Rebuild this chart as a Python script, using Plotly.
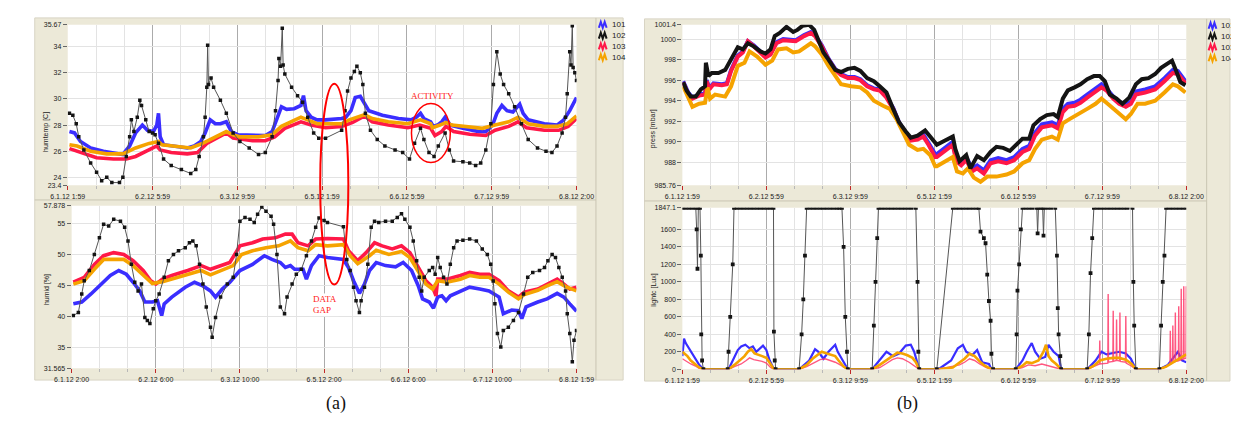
import plotly.graph_objects as go

W, H = 1239, 441

# ---------------- data (time in days-index units; tick k = k-th label) ----------------
X_TICK_POS = [0, 1, 2, 3, 4, 5, 6]
X_LABELS_MAIN = ["6.1.12 1:59", "6.2.12 5:59", "6.3.12 9:59", "6.5.12 1:59",
                 "6.6.12 5:59", "6.7.12 9:59", "6.8.12 2:00"]
X_LABELS_HUMID = ["6.1.12 2:00", "6.2.12 6:00", "6.3.12 10:00", "6.5.12 2:00",
                  "6.6.12 6:00", "6.7.12 10:00", "6.8.12 1:59"]

TEMP_TICKS = [23.4, 24, 26, 28, 30, 32, 34, 35.67]
TEMP_TICK_TEXT = ["23.4", "24", "26", "28", "30", "32", "34", "35.67"]
HUMID_TICKS = [31.565, 35, 40, 45, 50, 55, 57.878]
HUMID_TICK_TEXT = ["31.565", "35", "40", "45", "50", "55", "57.878"]
PRESS_TICKS = [985.76, 988, 990, 992, 994, 996, 998, 1000, 1001.4]
PRESS_TICK_TEXT = ["985.76", "988", "990", "992", "994", "996", "998", "1000", "1001.4"]
LIGHT_TICKS = [0, 200, 400, 600, 800, 1000, 1200, 1400, 1600, 1847.1]
LIGHT_TICK_TEXT = ["0", "200", "400", "600", "800", "1000", "1200", "1400", "1600", "1847.1"]

SERIES_NAMES = ["101", "102", "103", "104"]

TEMP_101 = [(0.02,27.5),(0.08,27.4),(0.15,26.75),(0.27,26.25),(0.42,26.0),(0.57,25.8),(0.65,25.75),(0.73,26.4),(0.80,27.4),(0.88,28.0),(0.94,27.6),(1.01,27.5),(1.05,28.0),(1.07,28.9),(1.09,27.1),(1.13,26.5),(1.22,26.4),(1.41,26.25),(1.49,26.4),(1.57,26.75),(1.62,27.4),(1.68,28.4),(1.74,28.1),(1.80,28.1),(1.87,28.25),(1.93,27.5),(2.01,27.25),(2.18,27.2),(2.33,27.2),(2.41,27.5),(2.46,28.4),(2.52,29.4),(2.58,29.2),(2.67,29.25),(2.75,29.5),(2.78,30.25),(2.81,29.1),(2.87,28.6),(2.94,28.4),(3.04,28.4),(3.23,28.5),(3.28,28.6),(3.34,29.1),(3.39,30.1),(3.45,30.2),(3.50,29.6),(3.55,29.1),(3.71,28.75),(3.90,28.5),(4.05,28.4),(4.11,28.6),(4.16,28.9),(4.20,28.5),(4.28,28.25),(4.31,27.9),(4.36,28.0),(4.41,28.25),(4.45,28.6),(4.51,28.0),(4.66,27.75),(4.85,27.5),(4.93,27.5),(5.01,28.0),(5.06,28.9),(5.12,29.5),(5.18,29.1),(5.25,29.0),(5.33,29.6),(5.37,28.9),(5.43,28.4),(5.62,28.1),(5.77,28.0),(5.85,28.4),(5.92,29.1),(6.0,30.1)]
TEMP_102 = [(0.02,28.9),(0.06,28.75),(0.10,28.1),(0.13,27.1),(0.19,26.1),(0.27,25.1),(0.34,24.4),(0.40,23.75),(0.46,24.0),(0.52,23.6),(0.61,23.6),(0.65,24.0),(0.69,25.6),(0.73,27.1),(0.75,28.4),(0.78,27.5),(0.82,28.6),(0.85,29.9),(0.87,29.5),(0.92,28.4),(0.96,27.5),(1.00,27.4),(1.03,27.25),(1.07,26.6),(1.13,25.4),(1.22,24.9),(1.34,24.6),(1.45,24.3),(1.51,24.6),(1.55,25.6),(1.60,27.1),(1.62,28.6),(1.64,30.9),(1.65,34.1),(1.66,31.1),(1.69,31.6),(1.72,30.9),(1.80,29.9),(1.87,28.9),(1.95,27.4),(2.03,26.75),(2.14,26.25),(2.25,25.75),(2.33,25.9),(2.41,27.1),(2.45,29.1),(2.48,31.4),(2.49,33.1),(2.51,32.5),(2.53,35.4),(2.54,32.6),(2.56,31.9),(2.64,30.9),(2.71,30.25),(2.77,29.75),(2.83,28.6),(2.90,27.4),(2.96,27.0),(3.04,27.0),(3.23,27.6),(3.27,29.1),(3.30,30.6),(3.34,31.6),(3.38,32.1),(3.41,32.5),(3.45,32.0),(3.48,31.1),(3.51,28.9),(3.57,27.6),(3.65,26.9),(3.74,26.4),(3.86,26.1),(3.95,25.9),(4.03,25.4),(4.09,26.6),(4.16,27.75),(4.20,26.9),(4.26,25.9),(4.32,25.6),(4.37,26.4),(4.45,27.4),(4.50,26.1),(4.55,25.25),(4.66,25.2),(4.74,25.1),(4.81,24.9),(4.87,25.1),(4.93,26.1),(4.99,28.1),(5.02,31.1),(5.06,33.6),(5.10,31.9),(5.14,31.1),(5.20,30.4),(5.27,29.4),(5.35,28.1),(5.43,26.9),(5.54,26.25),(5.64,26.0),(5.71,25.9),(5.77,26.4),(5.83,27.4),(5.87,28.6),(5.89,30.4),(5.92,33.6),(5.935,32.6),(5.95,35.6),(5.96,32.4),(5.98,32.0),(6.0,31.4)]
TEMP_103 = [(0.02,26.2),(0.15,25.9),(0.34,25.5),(0.54,25.4),(0.69,25.4),(0.80,25.6),(0.92,26.0),(1.05,26.4),(1.09,26.1),(1.22,25.9),(1.41,25.8),(1.53,25.9),(1.64,26.6),(1.76,27.0),(1.87,27.4),(1.95,27.0),(2.18,26.8),(2.33,26.8),(2.44,27.1),(2.56,27.75),(2.75,28.25),(2.87,28.0),(3.04,27.8),(3.23,27.9),(3.36,28.2),(3.50,28.7),(3.59,28.25),(3.78,28.0),(4.01,27.8),(4.15,28.0),(4.28,27.75),(4.33,27.2),(4.41,27.5),(4.46,27.9),(4.55,27.5),(4.74,27.3),(4.93,27.2),(5.04,27.6),(5.20,27.9),(5.31,28.25),(5.41,27.8),(5.62,27.6),(5.79,27.6),(5.90,27.9),(6.0,28.5)]
TEMP_104 = [(0.02,26.5),(0.11,26.4),(0.27,26.0),(0.46,25.8),(0.65,25.8),(0.80,26.25),(0.96,26.6),(1.07,26.75),(1.11,26.5),(1.26,26.4),(1.45,26.25),(1.59,26.6),(1.72,27.0),(1.87,27.5),(1.95,27.25),(2.03,27.1),(2.25,27.1),(2.41,27.25),(2.52,27.9),(2.64,28.25),(2.75,28.6),(2.83,28.4),(2.94,28.1),(3.04,28.1),(3.23,28.1),(3.32,28.4),(3.44,28.7),(3.50,28.8),(3.59,28.5),(3.78,28.25),(4.01,28.1),(4.16,28.4),(4.28,28.1),(4.30,27.8),(4.39,28.0),(4.46,28.2),(4.53,28.0),(4.70,27.9),(4.89,27.75),(5.04,28.0),(5.20,28.25),(5.31,28.6),(5.43,28.1),(5.62,27.9),(5.77,27.9),(5.89,28.1),(6.0,28.7)]

HUMID_101 = [(0.02,42.0),(0.12,42.3),(0.23,43.6),(0.35,45.2),(0.46,46.6),(0.56,47.4),(0.65,46.8),(0.73,45.5),(0.81,44.1),(0.87,42.3),(0.96,42.3),(1.02,42.5),(1.07,40.1),(1.10,42.0),(1.19,43.1),(1.35,44.7),(1.46,45.5),(1.56,44.9),(1.65,44.1),(1.71,43.1),(1.79,44.4),(1.88,45.5),(2.00,47.4),(2.15,48.4),(2.29,49.8),(2.38,49.2),(2.48,48.7),(2.54,47.9),(2.60,48.2),(2.65,47.6),(2.75,47.6),(2.79,46.0),(2.85,48.2),(2.94,49.8),(3.04,49.5),(3.23,49.2),(3.29,47.9),(3.35,45.75),(3.42,43.7),(3.48,45.2),(3.54,47.4),(3.62,48.7),(3.73,48.2),(3.85,48.0),(3.94,48.7),(4.04,47.4),(4.12,44.9),(4.17,42.8),(4.25,42.3),(4.30,41.3),(4.35,43.1),(4.40,43.3),(4.45,42.5),(4.50,43.3),(4.62,44.1),(4.73,44.7),(4.85,44.4),(4.96,44.1),(5.08,43.1),(5.13,40.4),(5.23,41.0),(5.31,40.9),(5.35,39.6),(5.40,41.5),(5.54,42.3),(5.65,42.8),(5.77,43.7),(5.85,43.1),(5.92,42.0),(6.0,40.8)]
HUMID_102 = [(0.02,40.1),(0.08,40.6),(0.12,43.6),(0.15,45.75),(0.21,47.4),(0.27,50.0),(0.33,52.7),(0.38,54.9),(0.44,54.6),(0.50,55.7),(0.58,55.4),(0.63,54.4),(0.67,52.2),(0.71,48.4),(0.75,45.5),(0.79,44.1),(0.83,45.2),(0.87,39.8),(0.90,39.3),(0.93,38.8),(0.97,41.2),(1.00,42.5),(1.04,43.6),(1.10,46.3),(1.15,49.0),(1.21,50.0),(1.27,50.6),(1.35,51.1),(1.40,51.9),(1.44,52.2),(1.48,51.4),(1.52,48.4),(1.56,45.2),(1.60,41.5),(1.65,38.2),(1.67,36.6),(1.71,39.8),(1.77,43.1),(1.85,45.2),(1.92,46.3),(1.96,50.0),(2.00,55.4),(2.06,56.0),(2.12,55.7),(2.17,55.2),(2.21,56.5),(2.26,57.7),(2.31,57.0),(2.37,56.2),(2.40,54.9),(2.44,50.0),(2.48,41.5),(2.53,40.4),(2.56,43.1),(2.62,45.2),(2.67,46.8),(2.73,47.6),(2.79,49.8),(2.85,52.2),(2.90,54.4),(2.94,55.9),(3.00,55.5),(3.04,55.2),(3.23,54.5),(3.27,49.2),(3.31,47.4),(3.35,44.7),(3.38,42.5),(3.42,40.6),(3.44,42.5),(3.48,44.7),(3.52,48.4),(3.56,54.4),(3.60,55.4),(3.65,55.2),(3.73,55.4),(3.81,55.4),(3.87,56.0),(3.92,56.6),(3.96,55.7),(4.02,54.4),(4.06,52.2),(4.10,49.0),(4.13,46.3),(4.16,44.1),(4.19,46.3),(4.25,47.4),(4.29,47.9),(4.32,46.8),(4.35,49.5),(4.38,47.9),(4.42,46.3),(4.46,45.2),(4.50,48.4),(4.54,51.1),(4.58,52.2),(4.65,52.3),(4.73,52.5),(4.81,52.2),(4.88,50.9),(4.94,50.0),(4.98,48.4),(5.01,45.7),(5.03,42.0),(5.06,37.2),(5.10,35.0),(5.13,37.7),(5.19,38.2),(5.25,39.3),(5.31,40.6),(5.37,43.6),(5.42,46.3),(5.48,47.1),(5.56,47.4),(5.62,47.9),(5.66,49.0),(5.71,50.0),(5.75,49.5),(5.79,47.9),(5.83,46.3),(5.87,44.1),(5.89,40.4),(5.92,37.2),(5.95,32.6),(5.97,36.1),(6.00,37.7)]
HUMID_103 = [(0.02,45.5),(0.15,46.3),(0.27,48.4),(0.38,49.8),(0.50,50.3),(0.62,50.0),(0.73,49.0),(0.85,47.4),(0.94,45.75),(1.00,45.2),(1.08,46.0),(1.19,46.6),(1.38,47.4),(1.54,48.2),(1.65,47.6),(1.77,48.2),(1.88,48.7),(2.00,51.4),(2.15,51.9),(2.27,52.5),(2.42,52.7),(2.54,53.3),(2.62,53.3),(2.69,51.9),(2.81,51.4),(2.90,52.5),(3.04,52.6),(3.23,52.5),(3.29,50.6),(3.40,49.0),(3.50,50.3),(3.60,51.9),(3.69,51.4),(3.81,50.9),(3.92,51.4),(4.02,50.3),(4.12,47.9),(4.21,45.75),(4.29,44.7),(4.33,43.3),(4.35,46.0),(4.46,46.0),(4.62,46.6),(4.73,47.1),(4.85,46.8),(4.96,46.8),(5.08,45.75),(5.19,44.1),(5.31,43.1),(5.38,43.9),(5.54,44.4),(5.65,45.2),(5.77,46.0),(5.85,45.2),(5.92,44.4),(6.0,44.7)]
HUMID_104 = [(0.02,45.2),(0.15,45.75),(0.27,47.6),(0.38,49.2),(0.50,49.2),(0.62,49.2),(0.73,48.2),(0.85,46.7),(0.96,45.3),(1.08,45.6),(1.23,46.2),(1.38,46.7),(1.54,47.4),(1.65,46.7),(1.81,47.6),(1.92,48.2),(2.02,50.0),(2.15,50.6),(2.31,51.1),(2.46,51.4),(2.60,52.2),(2.69,51.1),(2.81,50.6),(2.90,51.6),(3.04,51.4),(3.23,51.6),(3.31,49.8),(3.40,48.5),(3.54,49.8),(3.62,50.7),(3.77,50.0),(3.92,50.5),(4.02,49.5),(4.12,47.1),(4.21,45.2),(4.29,44.4),(4.35,45.75),(4.46,45.5),(4.62,46.0),(4.73,46.6),(4.85,46.3),(4.96,46.3),(5.08,45.2),(5.19,43.9),(5.31,42.8),(5.38,43.5),(5.54,44.2),(5.65,44.9),(5.77,45.6),(5.87,44.8),(6.0,44.1)]

PRESS_101 = [(0.01,995.9),(0.07,994.8),(0.12,994.3),(0.20,994.6),(0.27,994.7),(0.29,996.0),(0.32,995.2),(0.37,995.7),(0.47,995.6),(0.53,995.7),(0.58,997.0),(0.66,998.4),(0.72,998.8),(0.78,999.8),(0.85,999.4),(0.93,998.8),(0.99,998.3),(1.05,998.6),(1.12,999.7),(1.20,1000.0),(1.28,999.9),(1.35,999.9),(1.45,1000.4),(1.53,1000.7),(1.58,1000.4),(1.66,999.4),(1.74,998.1),(1.82,997.1),(1.89,996.6),(1.97,996.3),(2.05,996.3),(2.12,996.1),(2.20,995.5),(2.28,995.2),(2.35,995.1),(2.43,994.4),(2.51,993.3),(2.58,991.9),(2.66,990.9),(2.72,990.3),(2.80,990.4),(2.87,990.7),(2.93,989.9),(3.01,988.8),(3.03,988.8),(3.22,990.0),(3.26,988.4),(3.32,988.0),(3.38,988.5),(3.45,987.4),(3.51,987.7),(3.59,987.2),(3.67,988.2),(3.76,988.4),(3.86,988.2),(3.95,988.5),(4.05,989.3),(4.13,989.6),(4.20,990.9),(4.28,991.7),(4.40,991.9),(4.47,991.6),(4.53,993.2),(4.59,993.7),(4.67,993.8),(4.74,994.1),(4.82,994.6),(4.90,995.1),(4.99,995.6),(5.05,995.2),(5.13,994.4),(5.20,993.9),(5.28,993.6),(5.34,993.9),(5.40,994.9),(5.51,995.1),(5.63,995.4),(5.74,996.2),(5.84,997.0),(5.90,996.9),(5.95,996.4),(5.99,995.9)]
PRESS_102 = [(0.01,995.8),(0.05,995.0),(0.10,994.4),(0.16,994.4),(0.22,995.1),(0.27,995.4),(0.28,997.7),(0.31,996.4),(0.35,996.7),(0.43,996.7),(0.51,997.0),(0.58,998.0),(0.66,999.2),(0.72,999.0),(0.78,999.6),(0.85,999.3),(0.93,998.8),(0.99,998.6),(1.05,999.0),(1.10,1000.3),(1.16,1000.6),(1.24,1001.2),(1.32,1000.7),(1.37,1000.9),(1.43,1001.3),(1.51,1001.4),(1.57,1000.9),(1.62,999.9),(1.68,998.7),(1.74,998.0),(1.82,997.0),(1.89,996.8),(1.97,997.1),(2.05,997.2),(2.12,996.9),(2.20,996.2),(2.28,995.9),(2.35,995.4),(2.43,994.8),(2.51,993.2),(2.58,991.9),(2.66,991.0),(2.72,990.4),(2.80,990.6),(2.89,991.1),(2.95,990.5),(3.01,989.8),(3.03,989.7),(3.22,990.5),(3.25,989.3),(3.30,988.1),(3.38,988.7),(3.43,987.4),(3.51,988.6),(3.59,988.2),(3.67,989.0),(3.74,989.5),(3.82,989.4),(3.90,989.1),(3.97,989.7),(4.05,990.3),(4.13,990.3),(4.18,991.6),(4.26,992.2),(4.34,992.6),(4.42,992.7),(4.47,992.4),(4.53,994.2),(4.59,995.0),(4.67,995.3),(4.74,995.6),(4.82,996.1),(4.90,996.4),(4.97,996.4),(5.03,995.9),(5.09,994.6),(5.17,994.2),(5.24,993.7),(5.32,994.3),(5.40,995.6),(5.47,996.1),(5.55,996.2),(5.63,996.6),(5.70,997.2),(5.78,997.6),(5.83,997.9),(5.88,996.9),(5.93,995.8),(5.99,995.5)]
PRESS_103 = [(0.01,995.8),(0.07,994.6),(0.12,994.2),(0.20,994.5),(0.27,994.6),(0.29,995.9),(0.32,995.1),(0.37,995.6),(0.47,995.5),(0.53,995.6),(0.58,996.9),(0.66,998.3),(0.72,998.7),(0.78,999.8),(0.85,999.3),(0.93,998.7),(0.99,998.2),(1.05,998.5),(1.12,999.6),(1.20,999.9),(1.28,999.8),(1.35,999.8),(1.45,1000.3),(1.53,1000.6),(1.58,1000.3),(1.66,999.3),(1.74,998.0),(1.82,997.0),(1.89,996.5),(1.97,996.2),(2.05,996.2),(2.12,996.0),(2.20,995.4),(2.28,995.1),(2.35,995.0),(2.43,994.3),(2.51,993.2),(2.58,991.8),(2.66,990.8),(2.72,990.1),(2.80,990.2),(2.87,990.5),(2.93,989.7),(3.01,988.5),(3.03,988.5),(3.22,989.7),(3.26,988.1),(3.32,987.7),(3.38,988.2),(3.45,987.1),(3.51,987.4),(3.59,986.9),(3.67,987.9),(3.76,988.1),(3.86,987.9),(3.95,988.2),(4.05,989.0),(4.13,989.3),(4.20,990.6),(4.28,991.4),(4.40,991.6),(4.47,991.3),(4.53,992.9),(4.59,993.4),(4.67,993.5),(4.74,993.8),(4.82,994.3),(4.90,994.8),(4.99,995.3),(5.05,995.0),(5.13,994.2),(5.20,993.7),(5.28,993.4),(5.34,993.7),(5.40,994.6),(5.51,994.8),(5.63,995.1),(5.74,995.9),(5.84,996.7),(5.90,996.6),(5.95,996.1),(5.99,995.7)]
PRESS_104 = [(0.01,995.4),(0.07,994.2),(0.12,993.4),(0.20,993.7),(0.27,993.8),(0.30,995.3),(0.33,994.2),(0.39,994.6),(0.51,994.4),(0.58,995.4),(0.66,997.4),(0.74,997.7),(0.80,998.8),(0.89,998.3),(0.99,997.5),(1.07,997.9),(1.14,999.0),(1.24,999.1),(1.32,998.7),(1.39,998.8),(1.47,999.3),(1.53,999.6),(1.58,999.3),(1.66,998.5),(1.74,997.4),(1.82,996.4),(1.89,995.6),(2.01,995.4),(2.12,995.3),(2.20,994.8),(2.28,994.0),(2.39,993.5),(2.47,993.2),(2.55,992.2),(2.62,991.0),(2.70,989.7),(2.80,989.2),(2.87,989.3),(2.95,988.7),(3.01,987.6),(3.03,987.6),(3.22,988.5),(3.27,987.1),(3.34,986.9),(3.40,987.4),(3.47,986.5),(3.55,986.1),(3.63,986.6),(3.74,986.6),(3.86,986.8),(3.95,987.1),(4.05,987.9),(4.13,988.2),(4.20,989.3),(4.28,990.2),(4.40,990.5),(4.47,990.2),(4.53,991.8),(4.61,992.2),(4.70,992.6),(4.82,993.2),(4.92,993.7),(4.99,994.2),(5.05,993.8),(5.13,993.2),(5.20,992.7),(5.28,992.2),(5.34,992.7),(5.42,993.7),(5.51,993.7),(5.63,994.0),(5.74,994.8),(5.84,995.6),(5.90,995.4),(5.95,995.1),(5.99,994.8)]

LIGHT_101 = [(0,150),(0.02,350),(0.04,300),(0.07,250),(0.10,200),(0.13,150),(0.17,100),(0.20,50),(0.25,0),(0.55,0),(0.60,100),(0.66,220),(0.70,260),(0.75,280),(0.80,240),(0.84,260),(0.88,200),(0.92,230),(0.96,270),(1.00,220),(1.04,100),(1.08,20),(1.10,0),(1.39,0),(1.51,100),(1.58,230),(1.62,200),(1.68,120),(1.74,200),(1.82,280),(1.85,200),(1.91,100),(1.97,0),(2.26,0),(2.35,100),(2.43,200),(2.51,150),(2.58,180),(2.66,270),(2.72,280),(2.76,200),(2.82,0),(3.05,0),(3.20,100),(3.28,240),(3.34,280),(3.38,200),(3.45,160),(3.51,220),(3.57,80),(3.65,60),(3.68,0),(3.97,0),(4.05,100),(4.10,200),(4.16,300),(4.20,200),(4.26,120),(4.32,140),(4.36,280),(4.42,200),(4.48,150),(4.51,0),(4.82,0),(4.92,100),(4.99,200),(5.05,170),(5.13,190),(5.20,200),(5.28,180),(5.34,120),(5.40,0),(5.68,0),(5.78,50),(5.86,150),(5.90,200),(5.95,100),(6.0,80)]
LIGHT_102 = [(0,1847.1),(0.04,1847.1),(0.08,1847.1),(0.12,1847.1),(0.16,1847.1),(0.17,1600),(0.18,1150),(0.19,1847.1),(0.21,1847.1),(0.22,1300),(0.225,400),(0.235,100),(0.25,0),(0.54,0),(0.55,200),(0.57,600),(0.60,1200),(0.615,1847.1),(0.65,1847.1),(0.69,1847.1),(0.73,1847.1),(0.77,1847.1),(0.81,1847.1),(0.85,1847.1),(0.89,1847.1),(0.93,1847.1),(0.97,1847.1),(1.01,1847.1),(1.05,1847.1),(1.085,1847.1),(1.09,430),(1.10,100),(1.11,0),(1.39,0),(1.42,400),(1.44,800),(1.46,1300),(1.48,1847.1),(1.52,1847.1),(1.56,1847.1),(1.60,1847.1),(1.64,1847.1),(1.68,1847.1),(1.72,1847.1),(1.76,1847.1),(1.80,1847.1),(1.84,1847.1),(1.87,1847.1),(1.90,1847.1),(1.92,1400),(1.94,600),(1.96,200),(1.97,0),(2.26,0),(2.28,500),(2.30,1000),(2.32,1500),(2.335,1847.1),(2.37,1847.1),(2.41,1847.1),(2.45,1847.1),(2.49,1847.1),(2.53,1847.1),(2.57,1847.1),(2.61,1847.1),(2.65,1847.1),(2.69,1847.1),(2.73,1847.1),(2.78,1847.1),(2.80,1000),(2.81,200),(2.82,0),(3.03,0),(3.22,1847.1),(3.26,1847.1),(3.30,1847.1),(3.34,1847.1),(3.38,1847.1),(3.42,1847.1),(3.46,1847.1),(3.50,1847.1),(3.53,1847.1),(3.55,1574),(3.59,1500),(3.61,1442),(3.63,1083),(3.65,781),(3.67,555),(3.68,177),(3.70,0),(3.97,0),(3.98,400),(3.99,900),(4.01,1200),(4.03,1600),(4.05,1847.1),(4.09,1847.1),(4.13,1847.1),(4.17,1847.1),(4.22,1847.1),(4.23,1555),(4.24,1847.1),(4.27,1847.1),(4.29,1847.1),(4.30,1530),(4.31,1847.1),(4.35,1847.1),(4.39,1847.1),(4.44,1847.1),(4.46,1300),(4.47,700),(4.48,400),(4.50,150),(4.51,0),(4.82,0),(4.84,400),(4.86,1100),(4.88,1500),(4.90,1847.1),(4.94,1847.1),(4.98,1847.1),(5.02,1847.1),(5.06,1847.1),(5.10,1847.1),(5.14,1847.1),(5.18,1847.1),(5.22,1847.1),(5.26,1847.1),(5.30,1847.1),(5.36,1847.1),(5.37,1000),(5.38,500),(5.40,0),(5.68,0),(5.70,500),(5.72,1000),(5.74,1300),(5.76,1847.1),(5.80,1847.1),(5.84,1847.1),(5.88,1847.1),(5.92,1847.1),(5.96,1847.1),(6.0,1847.1)]
LIGHT_103 = [(0,120),(0.03,100),(0.06,80),(0.10,60),(0.15,40),(0.20,10),(0.25,0),(0.55,0),(0.62,30),(0.70,60),(0.76,100),(0.80,130),(0.85,110),(0.90,100),(0.95,90),(1.00,70),(1.05,20),(1.09,0),(1.39,0),(1.48,30),(1.56,70),(1.64,110),(1.70,120),(1.76,100),(1.82,80),(1.88,50),(1.97,0),(2.26,0),(2.35,20),(2.42,60),(2.50,110),(2.56,130),(2.62,120),(2.70,80),(2.76,40),(2.82,0),(3.05,0),(3.30,50),(3.36,80),(3.42,120),(3.48,100),(3.54,60),(3.62,20),(3.68,0),(3.97,0),(4.05,20),(4.12,50),(4.20,40),(4.28,60),(4.36,40),(4.44,20),(4.51,0),(4.82,0),(4.90,30),(4.966,60),(4.97,330),(4.974,60),(5.066,70),(5.07,860),(5.074,80),(5.126,90),(5.13,670),(5.134,90),(5.166,100),(5.17,570),(5.174,100),(5.206,95),(5.21,650),(5.214,90),(5.276,80),(5.28,610),(5.284,70),(5.34,40),(5.40,0),(5.68,0),(5.76,30),(5.806,60),(5.81,440),(5.814,60),(5.836,70),(5.84,500),(5.844,80),(5.866,85),(5.87,650),(5.874,90),(5.906,95),(5.91,720),(5.914,100),(5.936,105),(5.94,920),(5.944,110),(5.966,115),(5.97,950),(5.974,120),(5.996,125),(6.0,950)]
LIGHT_104 = [(0,200),(0.03,180),(0.06,150),(0.10,100),(0.15,60),(0.20,20),(0.25,0),(0.55,0),(0.62,50),(0.68,100),(0.74,150),(0.78,200),(0.82,230),(0.86,180),(0.90,170),(0.95,150),(1.00,130),(1.05,50),(1.09,0),(1.39,0),(1.48,50),(1.55,120),(1.62,170),(1.66,200),(1.72,180),(1.78,160),(1.82,150),(1.86,100),(1.92,30),(1.97,0),(2.26,0),(2.35,50),(2.42,100),(2.50,150),(2.56,190),(2.62,180),(2.68,160),(2.74,130),(2.78,80),(2.82,0),(3.05,0),(3.22,20),(3.30,80),(3.36,120),(3.42,180),(3.48,150),(3.54,90),(3.60,40),(3.68,0),(3.97,0),(4.05,40),(4.10,80),(4.16,70),(4.24,100),(4.30,200),(4.33,280),(4.36,150),(4.40,100),(4.45,60),(4.51,0),(4.82,0),(4.90,40),(4.97,100),(5.05,120),(5.13,130),(5.20,130),(5.28,110),(5.35,60),(5.40,0),(5.68,0),(5.76,30),(5.84,80),(5.92,130),(5.97,160),(6.0,170)]

# ---------------- styling ----------------
COLORS = {"101": "#3A2EFF", "102": "#141414", "103": "#FF1848", "104": "#F5A300"}
BEIGE = "#ECE9D8"
TICK_FONT = dict(family="Liberation Sans, Arial, sans-serif", size=7, color="#222222")


def fx(p):
    return p / W


def fy(p):
    return 1 - p / H


fig = go.Figure()


def add(series, name, xa, ya, width=3.6, markers=False, color=None, opacity=1.0, msize=3.5):
    xs = [p[0] for p in series]
    ys = [p[1] for p in series]
    c = color or COLORS[name]
    if markers:
        fig.add_trace(go.Scatter(x=xs, y=ys, mode="lines+markers", name=name, xaxis=xa, yaxis=ya,
                                 line=dict(color="#555555", width=1),
                                 marker=dict(color=c, size=msize, symbol="square"),
                                 showlegend=False, hoverinfo="skip"))
    else:
        fig.add_trace(go.Scatter(x=xs, y=ys, mode="lines", name=name, xaxis=xa, yaxis=ya,
                                 line=dict(color=c, width=width), opacity=opacity,
                                 showlegend=False, hoverinfo="skip"))


# (a) top: temperature
add(TEMP_101, "101", "x", "y")
add(TEMP_103, "103", "x", "y")
add(TEMP_104, "104", "x", "y")
add(TEMP_102, "102", "x", "y", markers=True)
# (a) bottom: humidity
add(HUMID_101, "101", "x2", "y2")
add(HUMID_103, "103", "x2", "y2")
add(HUMID_104, "104", "x2", "y2")
add(HUMID_102, "102", "x2", "y2", markers=True)
# (b) top: pressure
add(PRESS_101, "101", "x3", "y3", width=4)
add(PRESS_103, "103", "x3", "y3", width=4)
add(PRESS_104, "104", "x3", "y3", width=4)
add(PRESS_102, "102", "x3", "y3", width=4)
# (b) bottom: light
add(LIGHT_101, "101", "x4", "y4", width=2.2)
add(LIGHT_103, "103", "x4", "y4", width=1.4, color="#FF3A6A", opacity=0.85)
add(LIGHT_104, "104", "x4", "y4", width=2.6)
add(LIGHT_102, "102", "x4", "y4", markers=True, msize=3.8)


def xaxis_cfg(x0, x1, anchor, labels):
    return dict(domain=[fx(x0), fx(x1)], anchor=anchor, range=[0, 6],
                tickmode="array", tickvals=X_TICK_POS, ticktext=labels,
                showgrid=True, gridcolor="#ABABAB", gridwidth=1,
                ticks="outside", ticklen=4, tickcolor="#C02828",
                minor=dict(tick0=0, dtick=1 / 3, showgrid=True, gridcolor="#E3E3E3",
                           ticks="outside", ticklen=3, tickcolor="#B8B8B8"),
                zeroline=False, showline=False, tickfont=TICK_FONT, fixedrange=True)


def yaxis_cfg(y0, y1, anchor, rng, vals, texts):
    return dict(domain=[fy(y1), fy(y0)], anchor=anchor, range=rng,
                tickmode="array", tickvals=vals, ticktext=texts,
                showgrid=True, gridcolor="#E3E3E3", gridwidth=1,
                ticks="outside", ticklen=4, tickcolor="#666666",
                zeroline=False, showline=False, tickfont=TICK_FONT, fixedrange=True)


fig.update_layout(
    width=W, height=H, margin=dict(l=0, r=0, t=0, b=0),
    paper_bgcolor="white", plot_bgcolor="white", showlegend=False,
    xaxis=xaxis_cfg(43, 567, "y", X_LABELS_MAIN),
    yaxis=yaxis_cfg(13, 176, "x", [TEMP_TICKS[0], TEMP_TICKS[-1]], TEMP_TICKS, TEMP_TICK_TEXT),
    xaxis2=xaxis_cfg(47, 567, "y2", X_LABELS_HUMID),
    yaxis2=yaxis_cfg(197, 362, "x2", [HUMID_TICKS[0], HUMID_TICKS[-1]], HUMID_TICKS, HUMID_TICK_TEXT),
    xaxis3=xaxis_cfg(676, 1195, "y3", X_LABELS_MAIN),
    yaxis3=yaxis_cfg(13, 176, "x3", [PRESS_TICKS[0], PRESS_TICKS[-1]], PRESS_TICKS, PRESS_TICK_TEXT),
    xaxis4=xaxis_cfg(676, 1195, "y4", X_LABELS_MAIN),
    yaxis4=yaxis_cfg(199, 363, "x4", [LIGHT_TICKS[0], LIGHT_TICKS[-1]], LIGHT_TICKS, LIGHT_TICK_TEXT),
)

shapes = []


def rect(x0, y0, x1, y1, fill, line=None, layer="below"):
    shapes.append(dict(type="rect", xref="paper", yref="paper", x0=fx(x0), x1=fx(x1), y0=fy(y1), y1=fy(y0),
                       fillcolor=fill, line=dict(width=1 if line else 0, color=line or fill), layer=layer))


def hline(x0, x1, y, color="#C9C5B2"):
    shapes.append(dict(type="line", xref="paper", yref="paper", x0=fx(x0), x1=fx(x1), y0=fy(y), y1=fy(y),
                       line=dict(color=color, width=1), layer="below"))


def vline(x, y0, y1, color="#C9C5B2"):
    shapes.append(dict(type="line", xref="paper", yref="paper", x0=fx(x), x1=fx(x), y0=fy(y0), y1=fy(y1),
                       line=dict(color=color, width=1), layer="below"))


# window frames
rect(9, 6, 615, 374, BEIGE, "#D8D4C4")
rect(637, 7, 1240, 375, BEIGE, "#D8D4C4")
hline(9, 587, 191)
vline(587, 6, 374)
hline(637, 1216, 192)
vline(1216, 7, 375)
# white plot areas
rect(43, 13, 567, 176, "white")
rect(47, 197, 567, 362, "white")
rect(676, 13, 1195, 176, "white")
rect(676, 199, 1195, 363, "white")


# legend glyphs
def glyph(cx, cy, color):
    pts = [(cx - 4, cy + 3), (cx - 2, cy - 3), (cx, cy + 3), (cx + 2, cy - 3), (cx + 4, cy + 3)]
    path = "M " + " L ".join(f"{fx(a):.5f},{fy(b):.5f}" for a, b in pts)
    shapes.append(dict(type="path", xref="paper", yref="paper", path=path,
                       line=dict(color=color, width=2), layer="above"))


annotations = []
for i, name in enumerate(SERIES_NAMES):
    ya = 13 + 11 * i
    glyph(594, ya, COLORS[name])
    annotations.append(dict(x=fx(601), y=fy(ya), xref="paper", yref="paper", text=name, showarrow=False,
                            xanchor="left", yanchor="middle", font=dict(family="Liberation Sans, Arial", size=8, color="#222")))
    yb = 14 + 11 * i
    glyph(1222, yb, COLORS[name])
    annotations.append(dict(x=fx(1229), y=fy(yb), xref="paper", yref="paper", text=name, showarrow=False,
                            xanchor="left", yanchor="middle", font=dict(family="Liberation Sans, Arial", size=8, color="#222")))

# data gap / activity highlights
rect(292, 286, 322, 309, "white", layer="above")
shapes.append(dict(type="circle", xref="paper", yref="paper", x0=fx(303), x1=fx(332), y0=fy(277), y1=fy(73),
                   line=dict(color="#FF0000", width=2), layer="above"))
shapes.append(dict(type="circle", xref="paper", yref="paper", x0=fx(397), x1=fx(437), y0=fy(153), y1=fy(93),
                   line=dict(color="#FF0000", width=1.5), layer="above"))

red_font = dict(family="Liberation Serif, DejaVu Serif, serif", size=9, color="#FF2020")
annotations += [
    dict(x=fx(419), y=fy(85), text="ACTIVITY", font=red_font),
    dict(x=fx(294), y=fy(292), text="DATA", font=red_font, xanchor="left"),
    dict(x=fx(294), y=fy(303), text="GAP", font=red_font, xanchor="left"),
]
for a in annotations[-3:]:
    a.update(xref="paper", yref="paper", showarrow=False, yanchor="middle")

# axis titles
title_font = dict(family="Liberation Sans, Arial, sans-serif", size=7, color="#222")
for txt, x, y in [("humtemp [C]", 15, 100), ("humid [%]", 15, 282),
                  ("press [mbar]", 646, 97), ("lightc [Lux]", 646, 282)]:
    annotations.append(dict(x=fx(x), y=fy(y), xref="paper", yref="paper", text=txt, textangle=-90,
                            showarrow=False, font=title_font))

# panel captions
cap_font = dict(family="Liberation Serif, DejaVu Serif, serif", size=18, color="#111")
annotations.append(dict(x=fx(307), y=fy(411), xref="paper", yref="paper", text="(a)", showarrow=False, font=cap_font))
annotations.append(dict(x=fx(921), y=fy(411), xref="paper", yref="paper", text="(b)", showarrow=False, font=cap_font))

fig.update_layout(shapes=shapes, annotations=annotations)
fig.write_html("out.html")
